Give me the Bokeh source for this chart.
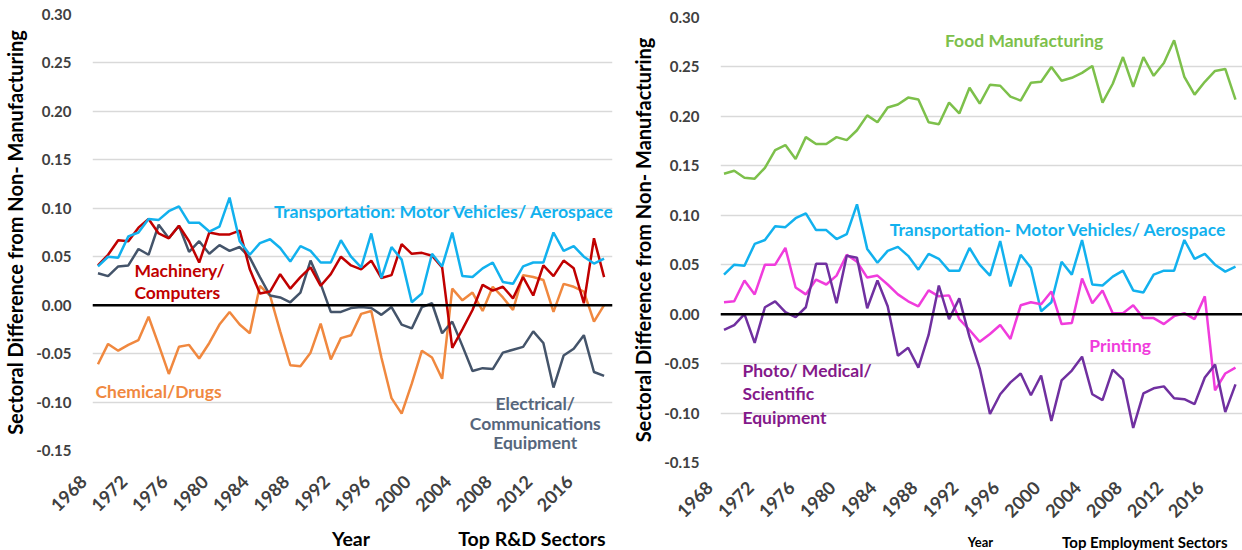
import math
from bokeh.plotting import figure
from bokeh.layouts import row, column
from bokeh.models import Range1d, FixedTicker, NumeralTickFormatter, Span, Label
from bokeh.core.properties import value
from bokeh.embed import file_html
from bokeh.resources import INLINE

years = list(range(1968, 2019))

transport = [0.040, 0.050, 0.049, 0.071, 0.075, 0.089, 0.088, 0.097, 0.102, 0.085,
             0.085, 0.076, 0.081, 0.111, 0.066, 0.052, 0.064, 0.068, 0.059, 0.045,
             0.061, 0.056, 0.044, 0.044, 0.067, 0.050, 0.039, 0.074, 0.028, 0.060,
             0.047, 0.003, 0.012, 0.053, 0.040, 0.075, 0.030, 0.029, 0.038, 0.044,
             0.024, 0.022, 0.040, 0.044, 0.044, 0.075, 0.056, 0.061, 0.050, 0.043,
             0.048]

machinery = [0.041, 0.052, 0.067, 0.066, 0.080, 0.089, 0.074, 0.069, 0.082, 0.066,
             0.044, 0.075, 0.073, 0.073, 0.077, 0.037, 0.012, 0.014, 0.032, 0.017,
             0.029, 0.039, 0.020, 0.032, 0.050, 0.041, 0.037, 0.046, 0.028, 0.031,
             0.063, 0.053, 0.054, 0.051, 0.039, -0.044, -0.025, -0.005, 0.021, 0.015,
             0.019, 0.007, 0.029, 0.010, 0.041, 0.030, 0.046, 0.038, 0.002, 0.069,
             0.029]

electrical = [0.033, 0.030, 0.040, 0.041, 0.058, 0.052, 0.083, 0.069, 0.082, 0.055,
              0.066, 0.053, 0.062, 0.056, 0.060, 0.049, 0.029, 0.010, 0.008, 0.003,
              0.013, 0.046, 0.022, -0.007, -0.007, -0.003, -0.002, -0.003, -0.010, -0.002,
              -0.020, -0.024, -0.002, 0.002, -0.029, -0.017, -0.042, -0.068, -0.065, -0.066,
              -0.049, -0.046, -0.043, -0.027, -0.039, -0.085, -0.052, -0.045, -0.031, -0.069,
              -0.073]

chemical = [-0.061, -0.040, -0.047, -0.041, -0.036, -0.012, -0.041, -0.071, -0.043, -0.041,
            -0.055, -0.039, -0.020, -0.007, -0.020, -0.029, 0.020, 0.010, -0.027, -0.062,
            -0.063, -0.049, -0.019, -0.056, -0.034, -0.031, -0.009, -0.006, -0.054, -0.096,
            -0.112, -0.081, -0.047, -0.054, -0.076, 0.017, 0.005, 0.013, -0.006, 0.019,
            0.008, -0.005, 0.031, 0.029, 0.026, -0.007, 0.022, 0.019, 0.014, -0.017,
            0.000]

food = [0.142, 0.145, 0.138, 0.137, 0.148, 0.166, 0.171, 0.157, 0.179, 0.172,
        0.172, 0.179, 0.176, 0.186, 0.201, 0.194, 0.209, 0.212, 0.219, 0.217,
        0.194, 0.192, 0.214, 0.203, 0.229, 0.213, 0.232, 0.231, 0.220, 0.216,
        0.234, 0.235, 0.250, 0.236, 0.239, 0.244, 0.251, 0.214, 0.233, 0.260,
        0.230, 0.260, 0.241, 0.254, 0.277, 0.240, 0.222, 0.235, 0.246, 0.248,
        0.217]

printing = [0.012, 0.013, 0.034, 0.020, 0.050, 0.050, 0.067, 0.027, 0.020, 0.035,
            0.030, 0.039, 0.060, 0.053, 0.037, 0.039, 0.030, 0.020, 0.013, 0.008,
            0.024, 0.018, 0.019, -0.005, -0.016, -0.028, -0.020, -0.011, -0.025, 0.009,
            0.012, 0.010, 0.023, -0.010, -0.009, 0.036, 0.011, 0.024, 0.001, 0.001,
            0.009, -0.004, -0.004, -0.010, -0.002, 0.001, -0.005, 0.018, -0.077, -0.060,
            -0.054]

photo = [-0.016, -0.011, 0.000, -0.029, 0.007, 0.013, 0.002, -0.003, 0.007, 0.051,
         0.051, 0.011, 0.059, 0.057, 0.006, 0.034, 0.008, -0.042, -0.034, -0.054,
         -0.021, 0.029, -0.005, 0.016, -0.023, -0.055, -0.101, -0.081, -0.069, -0.060,
         -0.082, -0.062, -0.108, -0.067, -0.057, -0.043, -0.081, -0.087, -0.056, -0.066,
         -0.115, -0.080, -0.075, -0.073, -0.085, -0.086, -0.091, -0.064, -0.051, -0.099,
         -0.071]

y_ticks = [-0.15, -0.10, -0.05, 0.0, 0.05, 0.10, 0.15, 0.20, 0.25, 0.30]
x_ticks = list(range(1968, 2017, 4))
y_title = "Sectoral Difference from Non- Manufacturing"
left_titles = ["Year", "Top R&D Sectors"]
right_titles = ["Year", "Top Employment Sectors"]

FONT = "Lato"
C_TRANS = "#12B1EE"
C_MACH = "#C00000"
C_ELEC = "#44546A"
C_CHEM = "#F0883F"
C_FOOD = "#7DC04B"
C_PRINT = "#F03CDC"
C_PHOTO = "#7030A0"
TICK_COLOR = "#404040"
SERIES_SIZE = "17.5px"
FIG_SPACE = "\u2007"
TOTAL_H = 550


def make_fig(width, height, xr, mb_left, mb_right, mb_top, mb_bottom, xlab_standoff):
    p = figure(width=width, height=height, output_backend="svg", toolbar_location=None,
               x_range=Range1d(*xr), y_range=Range1d(-0.15, 0.30),
               min_border_left=mb_left, min_border_right=mb_right,
               min_border_top=mb_top, min_border_bottom=mb_bottom)
    p.outline_line_color = None
    p.background_fill_color = "white"
    p.border_fill_color = "white"
    p.xgrid.grid_line_color = None
    p.ygrid.ticker = FixedTicker(ticks=y_ticks)
    p.ygrid.grid_line_color = "#D9D9D9"
    p.ygrid.grid_line_width = 1.5
    p.yaxis.ticker = FixedTicker(ticks=y_ticks)
    p.yaxis.formatter = NumeralTickFormatter(format="0.00")
    p.xaxis.ticker = FixedTicker(ticks=x_ticks)
    # trailing figure spaces push the rotated label so it ends near its tick (Excel style)
    p.xaxis.major_label_overrides = {t: str(t) + FIG_SPACE * 2 for t in x_ticks}
    p.xaxis.major_label_orientation = math.pi / 4
    for ax in (p.xaxis[0], p.yaxis[0]):
        ax.axis_line_color = None
        ax.major_tick_line_color = None
        ax.minor_tick_line_color = None
        ax.major_label_text_font = FONT
        ax.major_label_text_font_style = "bold"
        ax.major_label_text_color = TICK_COLOR
    p.yaxis.major_label_text_font_size = "15px"
    p.xaxis.major_label_text_font_size = "18px"
    p.xaxis.major_label_standoff = xlab_standoff
    p.yaxis.major_label_standoff = 15
    p.yaxis.axis_label = y_title
    p.yaxis.axis_label_text_font = FONT
    p.yaxis.axis_label_text_font_style = "bold"
    p.yaxis.axis_label_text_font_size = "20px"
    p.yaxis.axis_label_text_color = "black"
    p.yaxis.axis_label_standoff = 6
    p.add_layout(Span(location=0, dimension="width", line_color="black", line_width=2.5))
    return p


def make_strip(main, height, mb_left, mb_right):
    # a thin figure under a panel, sharing its year scale, for the bottom captions
    s = figure(width=main.width, height=height, output_backend="svg", toolbar_location=None,
               x_range=main.x_range, y_range=Range1d(0, height),
               x_axis_type=None, y_axis_type=None,
               min_border_left=mb_left, min_border_right=mb_right,
               min_border_top=0, min_border_bottom=0)
    s.outline_line_color = None
    s.xgrid.visible = False
    s.ygrid.visible = False
    s.background_fill_color = "white"
    s.border_fill_color = "white"
    return s


def lab(p, x, y, text, color, size=SERIES_SIZE, align="left"):
    p.add_layout(Label(x=x, y=y, text=text, text_color=color, text_font=FONT,
                       text_font_style="bold", text_font_size=size,
                       text_align=align, text_baseline="middle"))


# Left panel: Top R&D sectors
H1 = 526
p1 = make_fig(620, H1, (1967.46, 2018.83), 85, 8, 14, 76, 7)
p1.line(years, chemical, line_color=C_CHEM, line_width=2.5)
p1.line(years, electrical, line_color=C_ELEC, line_width=2.5)
p1.line(years, machinery, line_color=C_MACH, line_width=2.5)
p1.line(years, transport, line_color=C_TRANS, line_width=2.5)
lab(p1, 1985.4, 0.0975, "Transportation: Motor Vehicles/ Aerospace", C_TRANS, size="17.8px")
lab(p1, 1971.6, 0.036, "Machinery/", C_MACH)
lab(p1, 1971.6, 0.013, "Computers", C_MACH)
lab(p1, 1967.75, -0.089, "Chemical/Drugs", C_CHEM)
lab(p1, 2011.2, -0.1016, "Electrical/", "#56667C", align="center")
lab(p1, 2011.2, -0.1222, "Communications", "#56667C", align="center")
lab(p1, 2011.2, -0.1420, "Equipment", "#56667C", align="center")

s1 = make_strip(p1, TOTAL_H - H1, 85, 8)
s1.text(x=[1993.0, 2018.14], y=[12, 12], text=left_titles, text_font=value(FONT),
        text_font_style="bold", text_font_size="19.5px", text_color="black",
        text_align=["center", "right"], text_baseline="middle")

# Right panel: Top employment sectors
H2 = 532
p2 = make_fig(622, H2, (1967.658, 2018.684), 100, 0, 17, 70, 1)
p2.line(years, food, line_color=C_FOOD, line_width=2.5)
p2.line(years, transport, line_color=C_TRANS, line_width=2.5)
p2.line(years, printing, line_color=C_PRINT, line_width=2.5)
p2.line(years, photo, line_color=C_PHOTO, line_width=2.5)
lab(p2, 1989.6, 0.277, "Food Manufacturing", C_FOOD)
lab(p2, 1984.2, 0.086, "Transportation- Motor Vehicles/ Aerospace", C_TRANS)
lab(p2, 2003.7, -0.032, "Printing", C_PRINT)
lab(p2, 1969.8, -0.057, "Photo/ Medical/", "#84198A")
lab(p2, 1969.8, -0.080, "Scientific", "#84198A")
lab(p2, 1969.8, -0.104, "Equipment", "#84198A")

s2 = make_strip(p2, TOTAL_H - H2, 100, 0)
s2.text(x=[1993.07, 2017.22], y=[9, 9], text=right_titles, text_font=value(FONT),
        text_font_style="bold", text_font_size=["13px", "15px"], text_color="black",
        text_align=["center", "right"], text_baseline="middle")

layout = row(column(p1, s1), column(p2, s2))
open("out.html", "w").write(file_html(layout, INLINE))
